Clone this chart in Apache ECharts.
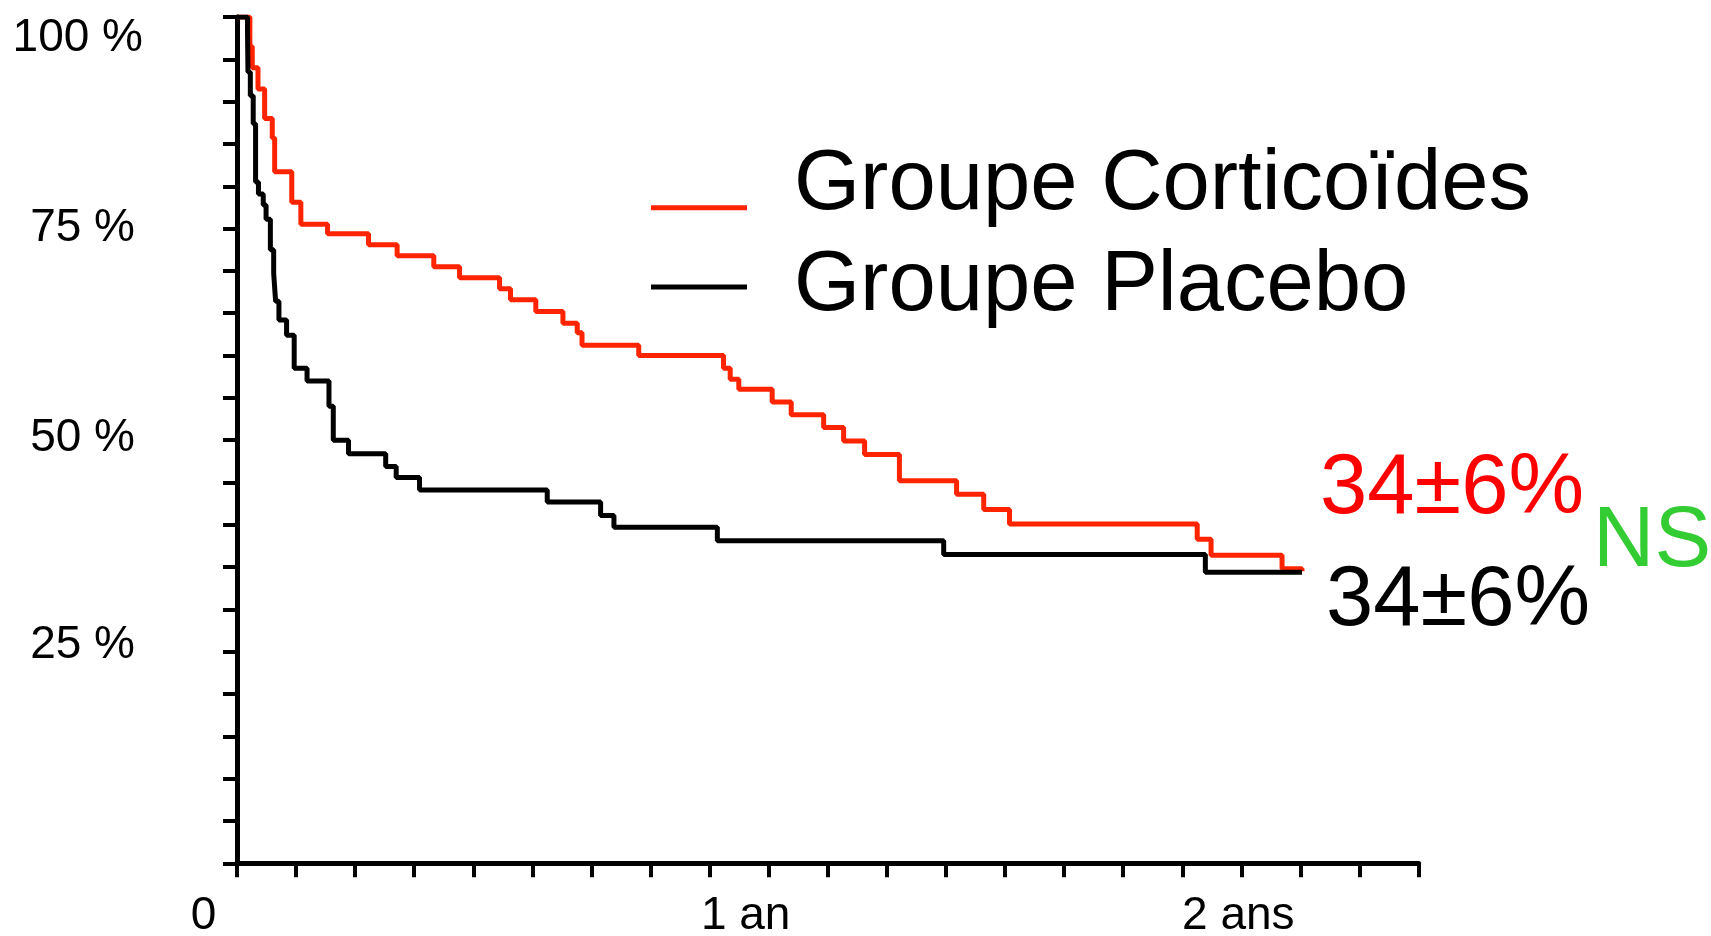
<!DOCTYPE html>
<html>
<head>
<meta charset="utf-8">
<script src="https://cdn.jsdelivr.net/npm/echarts@6/dist/echarts.min.js"></script>
<style>
html,body{margin:0;padding:0;background:#fff;}
#chart{width:1711px;height:936px;}
</style>
</head>
<body>
<div id="chart"></div>
<script>
// ---- data (time in years, survival in %) ----
const seriesNames = ['Groupe Corticoïdes', 'Groupe Placebo'];
const corticoTime = [0, 0.0272, 0.0323, 0.0444, 0.0585, 0.0746, 0.0797, 0.1159, 0.1351, 0.1916, 0.2783, 0.3388, 0.4164, 0.4709, 0.5555, 0.5787, 0.6322, 0.6896, 0.7199, 0.7300, 0.8500, 1.0294, 1.0435, 1.0617, 1.1323, 1.1726, 1.2412, 1.2835, 1.3279, 1.4015, 1.5225, 1.5799, 1.6344, 2.0316, 2.0609, 2.2111, 2.2534];
const corticoSurv = [100, 96.5, 94.0, 91.5, 88.0, 85.7, 81.7, 78.1, 75.5, 74.4, 73.1, 71.8, 70.5, 69.2, 67.9, 66.6, 65.2, 63.8, 62.7, 61.2, 60.0, 58.5, 57.2, 56.0, 54.5, 53.0, 51.5, 49.9, 48.3, 45.2, 43.6, 41.8, 40.1, 38.3, 36.4, 34.8, 34.5];
const placeboTime = [0, 0.0222, 0.0232, 0.0282, 0.0343, 0.0393, 0.0454, 0.0555, 0.0615, 0.0706, 0.0776, 0.0817, 0.0887, 0.1049, 0.1210, 0.1482, 0.1946, 0.2037, 0.2359, 0.3146, 0.3368, 0.3862, 0.6564, 0.7693, 0.7975, 1.0163, 1.4952, 2.0488, 2.2534];
const placeboSurv = [100, 98.5, 93.5, 90.7, 87.4, 80.5, 79.1, 77.8, 76.1, 72.5, 69.7, 66.4, 64.2, 62.4, 58.5, 57.0, 54.0, 50.0, 48.4, 46.9, 45.6, 44.1, 42.7, 41.1, 39.7, 38.1, 36.5, 34.4, 34.4];
const yTickLabels = {25: '25 %', 50: '50 %', 75: '75 %', 100: '100 %'};
const xTickLabels = {0: '0', 1: '1 an', 2: '2 ans'};
const endLabels = ['34±6%', '34±6%'];
const testLabel = 'NS';

const RED = '#ff2400';
const FONT = '"Liberation Sans", Arial, sans-serif';

function pairs(xs, ys) { return xs.map((x, i) => [x, ys[i]]); }
function lbl(extra) { return Object.assign({fontSize: 46, lineHeight: 46, color: '#000', fontFamily: FONT}, extra || {}); }

const chart = echarts.init(document.getElementById('chart'), null, {renderer: 'canvas'});
chart.setOption({
  animation: false,
  backgroundColor: '#ffffff',
  grid: {left: 237, top: 17, right: 292.4, bottom: 72.7, containLabel: false, outerBoundsMode: 'none'},
  xAxis: {
    type: 'value', min: 0, max: 2.5, interval: 0.125,
    splitLine: {show: false},
    axisLine: {show: true, onZero: false, lineStyle: {color: '#000', width: 5}},
    axisTick: {show: true, length: 14, lineStyle: {color: '#000', width: 4}},
    axisLabel: {
      margin: 30, fontSize: 46, lineHeight: 46, color: '#000', fontFamily: FONT,
      formatter: function (v) {
        const r = Math.round(v * 1000) / 1000;
        if (r === 0) return '{z|' + xTickLabels[0] + '}';
        if (r === 1) return '{o|' + xTickLabels[1] + '}';
        if (r === 2) return '{t|' + xTickLabels[2] + '}';
        return '';
      },
      rich: {
        z: lbl({padding: [0, 67, 0, 0]}),
        o: lbl({padding: [0, 0, 0, 72]}),
        t: lbl({padding: [0, 0, 0, 112]})
      }
    }
  },
  yAxis: {
    type: 'value', min: 0, max: 100, interval: 5,
    splitLine: {show: false},
    axisLine: {show: true, lineStyle: {color: '#000', width: 5}},
    axisTick: {show: true, length: 14, lineStyle: {color: '#000', width: 4}},
    axisLabel: {
      margin: 102, fontSize: 46, lineHeight: 46, color: '#000', fontFamily: FONT,
      formatter: function (v) {
        if (v === 100) return '{h|' + yTickLabels[100] + '}';
        if (v === 75) return '{a|' + yTickLabels[75] + '}';
        if (v === 50) return '{b|' + yTickLabels[50] + '}';
        if (v === 25) return '{c|' + yTickLabels[25] + '}';
        return '';
      },
      rich: {
        h: lbl({padding: [42, -8, 0, 0]}),
        a: lbl({}),
        b: lbl({padding: [0, 0, 4, 0]}),
        c: lbl({padding: [0, 0, 13, 0]})
      }
    }
  },
  legend: [
    {
      data: [{name: seriesNames[0], icon: 'path://M0,0L0,0M0,43.4L96,43.4L96,48.4L0,48.4Z'}],
      left: 651, top: 143.5, padding: 0, itemWidth: 96, itemHeight: 48.4,
      selectedMode: false, itemStyle: {borderWidth: 0},
      textStyle: {fontSize: 85, lineHeight: 85, fontFamily: FONT, color: '#000', padding: [0, 0, 0, 42]}
    },
    {
      data: [{name: seriesNames[1], icon: 'path://M0,0L96,0L96,5L0,5Z'}],
      left: 651, top: 244.5, padding: 0, itemWidth: 96, itemHeight: 5,
      selectedMode: false, itemStyle: {borderWidth: 0},
      textStyle: {fontSize: 85, lineHeight: 85, fontFamily: FONT, color: '#000', padding: [0, 0, 0, 42]}
    }
  ],
  graphic: [
    {type: 'text', x: 1320, y: 490, style: {text: endLabels[0], fill: '#ff0000', fontSize: 85, fontFamily: FONT, verticalAlign: 'middle'}},
    {type: 'text', x: 1326, y: 602, style: {text: endLabels[1], fill: '#000000', fontSize: 85, fontFamily: FONT, verticalAlign: 'middle'}},
    {type: 'text', x: 1593, y: 543, style: {text: testLabel, fill: '#33cc33', fontSize: 85, fontFamily: FONT, verticalAlign: 'middle'}}
  ],
  series: [
    {
      name: seriesNames[0], type: 'line', step: 'end', data: pairs(corticoTime, corticoSurv),
      symbol: 'none', showSymbol: false, color: RED, z: 2,
      lineStyle: {color: RED, width: 5}, emphasis: {disabled: true}
    },
    {
      name: seriesNames[1], type: 'line', step: 'end', data: pairs(placeboTime, placeboSurv),
      symbol: 'none', showSymbol: false, color: '#000000', z: 3,
      lineStyle: {color: '#000000', width: 5}, emphasis: {disabled: true}
    }
  ]
});
</script>
</body>
</html>
